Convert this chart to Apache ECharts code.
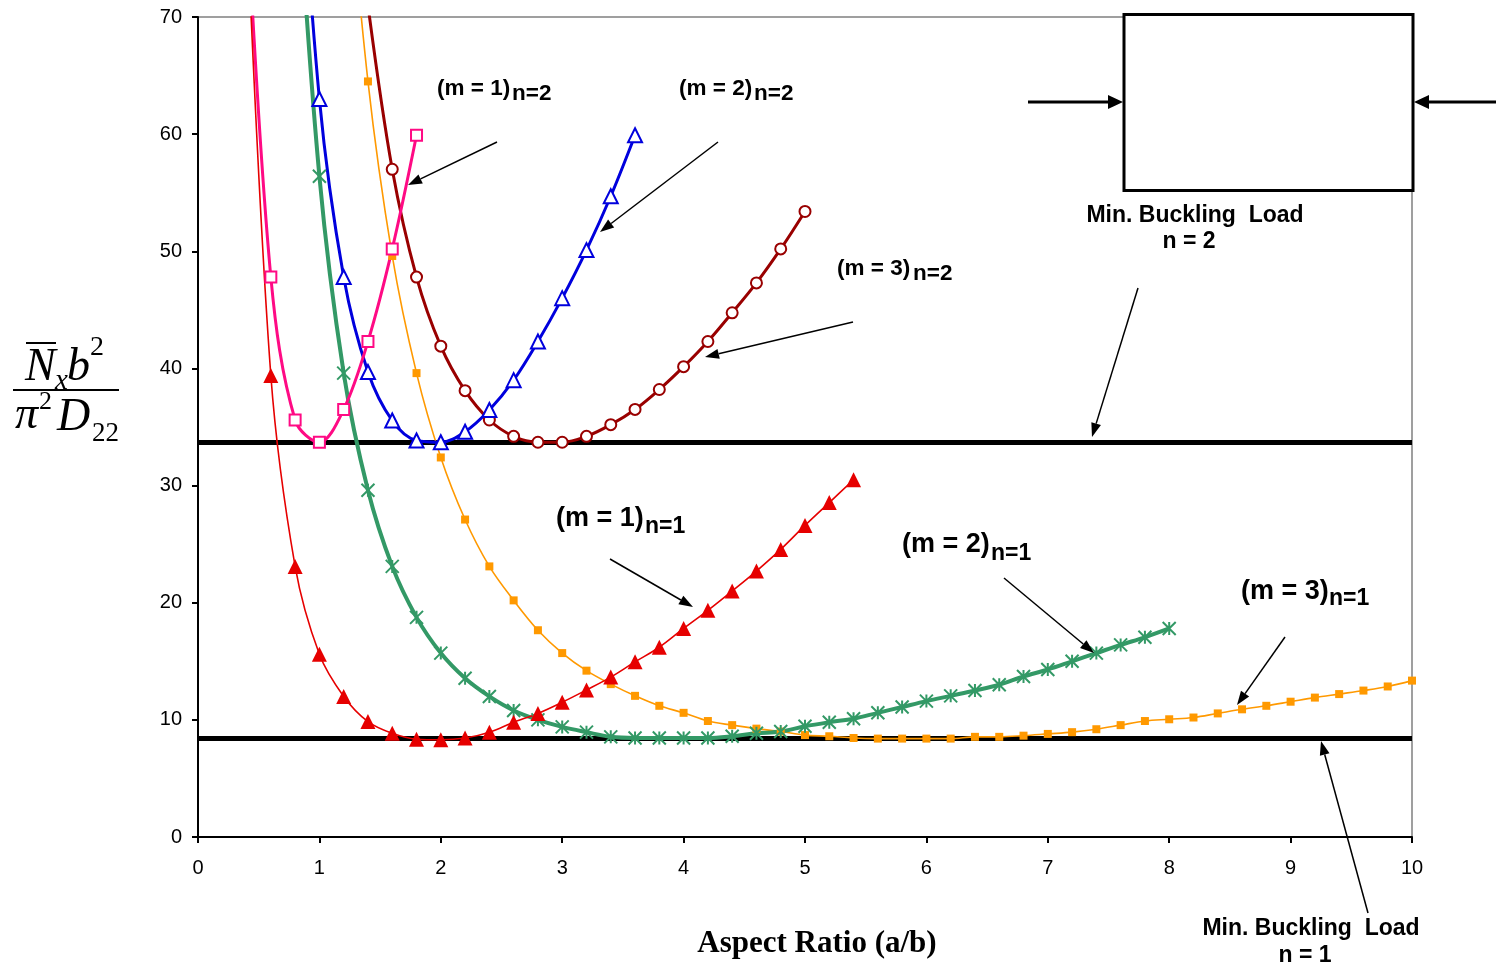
<!DOCTYPE html>
<html>
<head>
<meta charset="utf-8">
<script src="https://cdn.jsdelivr.net/npm/echarts@6/dist/echarts.min.js"></script>
<style>
html,body{margin:0;padding:0;background:#fff;}
#chart{width:1496px;height:967px;}
</style>
</head>
<body>
<div id="chart"></div>
<script>
// ---- data (aspect ratio a/b, non-dimensional buckling load) ----
// first point of each curve lies above the plotted range (clipped, estimated)
const m1n1 = [[0.4,79],[0.6,39.4],[0.8,23.1],[1.0,15.6],[1.2,12.0],[1.4,9.85],[1.6,8.85],[1.8,8.35],[2.0,8.3],[2.2,8.45],[2.4,8.95],[2.6,9.8],[2.8,10.55],[3.0,11.5],[3.2,12.55],[3.4,13.65],[3.6,14.95],[3.8,16.2],[4.0,17.8],[4.2,19.35],[4.4,21.0],[4.6,22.7],[4.8,24.55],[5.0,26.6],[5.2,28.55],[5.4,30.5]];
const m2n1 = [[0.8,85],[1.0,56.4],[1.2,39.6],[1.4,29.6],[1.6,23.1],[1.8,18.75],[2.0,15.7],[2.2,13.55],[2.4,12.0],[2.6,10.8],[2.8,10.0],[3.0,9.4],[3.2,8.95],[3.4,8.55],[3.6,8.45],[3.8,8.45],[4.0,8.45],[4.2,8.45],[4.4,8.6],[4.6,8.85],[4.8,9.0],[5.0,9.45],[5.2,9.8],[5.4,10.1],[5.6,10.6],[5.8,11.1],[6.0,11.6],[6.2,12.05],[6.4,12.5],[6.6,13.0],[6.8,13.7],[7.0,14.3],[7.2,15.0],[7.4,15.7],[7.6,16.4],[7.8,17.05],[8.0,17.8]];
const m3n1 = [[1.2,87],[1.4,64.5],[1.6,49.6],[1.8,39.6],[2.0,32.4],[2.2,27.1],[2.4,23.1],[2.6,20.2],[2.8,17.65],[3.0,15.7],[3.2,14.2],[3.4,13.05],[3.6,12.05],[3.8,11.2],[4.0,10.6],[4.2,9.9],[4.4,9.55],[4.6,9.25],[4.8,9.0],[5.0,8.7],[5.2,8.6],[5.4,8.45],[5.6,8.4],[5.8,8.4],[6.0,8.4],[6.2,8.4],[6.4,8.55],[6.6,8.55],[6.8,8.65],[7.0,8.8],[7.2,8.95],[7.4,9.2],[7.6,9.55],[7.8,9.9],[8.0,10.05],[8.2,10.2],[8.4,10.55],[8.6,10.9],[8.8,11.2],[9.0,11.55],[9.2,11.9],[9.4,12.2],[9.6,12.5],[9.8,12.85],[10.0,13.35]];
const m1n2 = [[0.4,80],[0.6,47.8],[0.8,35.6],[1.0,33.7],[1.2,36.5],[1.4,42.3],[1.6,50.2],[1.8,59.9]];
const m2n2 = [[0.8,92],[1.0,63.0],[1.2,47.8],[1.4,39.7],[1.6,35.55],[1.8,33.85],[2.0,33.7],[2.2,34.6],[2.4,36.45],[2.6,39.0],[2.8,42.3],[3.0,46.0],[3.2,50.1],[3.4,54.7],[3.6,59.9]];
const m3n2 = [[1.4,71],[1.6,57.0],[1.8,47.8],[2.0,41.9],[2.2,38.1],[2.4,35.6],[2.6,34.2],[2.8,33.7],[3.0,33.7],[3.2,34.2],[3.4,35.2],[3.6,36.5],[3.8,38.2],[4.0,40.15],[4.2,42.3],[4.4,44.75],[4.6,47.3],[4.8,50.2],[5.0,53.4]];
const minN2 = [[0,33.67],[10,33.67]];
const minN1 = [[0,8.4],[10,8.4]];
const xRange = [0, 10, 1];
const yRange = [0, 70, 10];
const xTitle = 'Aspect Ratio (a/b)';

// ---- helpers ----
const SANS = 'Liberation Sans, Arial, sans-serif';
const SERIF = 'Liberation Serif, Times New Roman, serif';
const ASTER = 'path://M5,0L5,10M0,0L10,10M0,10L10,0';

function curve(name, data, color, lw, symbol, size, filled, bw) {
  return {
    type: 'line', name, data, smooth: 0.35, showAllSymbol: true, clip: true,
    symbol, symbolSize: size, z: 3,
    lineStyle: { color, width: lw },
    itemStyle: filled ? { color, borderWidth: 0 } : { color, borderColor: color, borderWidth: bw },
    emphasis: { disabled: true }
  };
}
function flat(name, data) {
  return { type: 'line', name, data, symbol: 'none', z: 2, lineStyle: { color: '#000', width: 5 }, emphasis: { disabled: true } };
}
function txt(t, x, y, size, opts) {
  opts = opts || {};
  return { type: 'text', z: 20, x, y, style: {
    text: t, fontSize: size, fontFamily: opts.family || SANS, fontWeight: opts.weight || 'bold',
    fontStyle: opts.style || 'normal', fill: '#000', align: opts.align || 'left', verticalAlign: 'middle' } };
}
function arrow(x1, y1, x2, y2, lw, hl, hw) {
  const a = Math.atan2(y2 - y1, x2 - x1);
  const bx = x2 - hl * Math.cos(a), by = y2 - hl * Math.sin(a);
  const px = -Math.sin(a) * hw, py = Math.cos(a) * hw;
  return [
    { type: 'line', z: 20, shape: { x1, y1, x2: bx, y2: by }, style: { stroke: '#000', lineWidth: lw } },
    { type: 'polygon', z: 20, shape: { points: [[x2, y2], [bx + px, by + py], [bx - px, by - py]] }, style: { fill: '#000' } }
  ];
}
const IT = { family: SERIF, weight: 'normal', style: 'italic' };
const UP = { family: SERIF, weight: 'normal' };

const graphics = [].concat(
  // loaded plate sketch
  [{ type: 'rect', z: 15, shape: { x: 1124, y: 14.5, width: 289, height: 176 }, style: { fill: '#fff', stroke: '#000', lineWidth: 3 } }],
  arrow(1028, 102, 1123, 102, 3, 15, 7),
  arrow(1496, 102, 1414, 102, 3, 15, 7),
  // labels
  [
    txt('(m = 1)', 437, 89, 22.5), txt('n=2', 512, 94, 22.5),
    txt('(m = 2)', 679, 89, 22.5), txt('n=2', 754, 94, 22.5),
    txt('(m = 3)', 837, 269, 22.5), txt('n=2', 913, 274, 22.5),
    txt('(m = 1)', 556, 519, 27), txt('n=1', 645, 527, 23),
    txt('(m = 2)', 902, 545, 27), txt('n=1', 991, 554, 23),
    txt('(m = 3)', 1241, 592, 27), txt('n=1', 1329, 599, 23),
    txt('Min. Buckling  Load', 1195, 216, 23, { align: 'center' }), txt('n = 2', 1189, 242, 23, { align: 'center' }),
    txt('Min. Buckling  Load', 1311, 929, 23, { align: 'center' }), txt('n = 1', 1305, 956, 23, { align: 'center' }),
    txt(xTitle, 817, 944, 31, { family: SERIF, align: 'center' })
  ],
  arrow(497, 142, 408, 185, 1.5, 14, 5),
  arrow(718, 142, 600, 232, 1.5, 14, 5),
  arrow(853, 322, 705, 357, 1.5, 14, 5),
  arrow(1138, 288, 1092, 437, 1.5, 14, 5),
  arrow(610, 559, 693, 607, 1.5, 14, 5),
  arrow(1004, 578, 1094, 653, 1.5, 14, 5),
  arrow(1285, 637, 1237, 705, 1.5, 14, 5),
  arrow(1368, 913, 1321, 741, 1.5, 14, 5),
  // y-axis title: N̄x b² / π² D22
  [
    txt('N', 25, 368, 46, IT),
    { type: 'line', z: 20, shape: { x1: 26, y1: 343, x2: 56, y2: 343 }, style: { stroke: '#000', lineWidth: 2 } },
    txt('x', 55, 381, 29, IT),
    txt('b', 67, 368, 46, IT),
    txt('2', 90, 348, 28, UP),
    { type: 'line', z: 20, shape: { x1: 13, y1: 390, x2: 119, y2: 390 }, style: { stroke: '#000', lineWidth: 2 } },
    txt('\u03C0', 15, 416, 46, IT),
    txt('2', 39, 402, 26, UP),
    txt('D', 57, 418, 46, IT),
    txt('22', 92, 434, 27, UP)
  ]
);

const chart = echarts.init(document.getElementById('chart'), null, { renderer: 'canvas' });
chart.setOption({
  animation: false,
  backgroundColor: '#fff',
  grid: { left: 198, right: 84, top: 17, bottom: 130, show: true, borderColor: '#808080', borderWidth: 1.5, backgroundColor: 'transparent', containLabel: false },
  xAxis: {
    type: 'value', min: xRange[0], max: xRange[1], interval: xRange[2],
    axisLine: { show: true, onZero: false, lineStyle: { color: '#000', width: 2 } },
    axisTick: { show: true, inside: false, length: 6, lineStyle: { color: '#000', width: 2 } },
    axisLabel: { color: '#000', fontSize: 20, fontFamily: SANS, margin: 21 },
    splitLine: { show: false }
  },
  yAxis: {
    type: 'value', min: yRange[0], max: yRange[1], interval: yRange[2],
    axisLine: { show: true, onZero: false, lineStyle: { color: '#000', width: 2 } },
    axisTick: { show: true, inside: false, length: 6, lineStyle: { color: '#000', width: 2 } },
    axisLabel: { color: '#000', fontSize: 20, fontFamily: SANS, margin: 16 },
    splitLine: { show: false }
  },
  series: [
    flat('min n=2', minN2),
    flat('min n=1', minN1),
    curve('(m = 3) n=1', m3n1, '#FF9900', 1.6, 'rect', 8, true),
    curve('(m = 3) n=2', m3n2, '#990000', 3, 'emptyCircle', 11, false, 1.8),
    curve('(m = 2) n=1', m2n1, '#339966', 4, ASTER, 13, false, 2),
    curve('(m = 2) n=2', m2n2, '#0000DD', 3, 'emptyTriangle', 14, false, 1.8),
    curve('(m = 1) n=2', m1n2, '#FF0A84', 3, 'emptyRect', 11, false, 1.6),
    curve('(m = 1) n=1', m1n1, '#E60000', 1.6, 'triangle', 15, true)
  ],
  graphic: graphics
});
</script>
</body>
</html>
